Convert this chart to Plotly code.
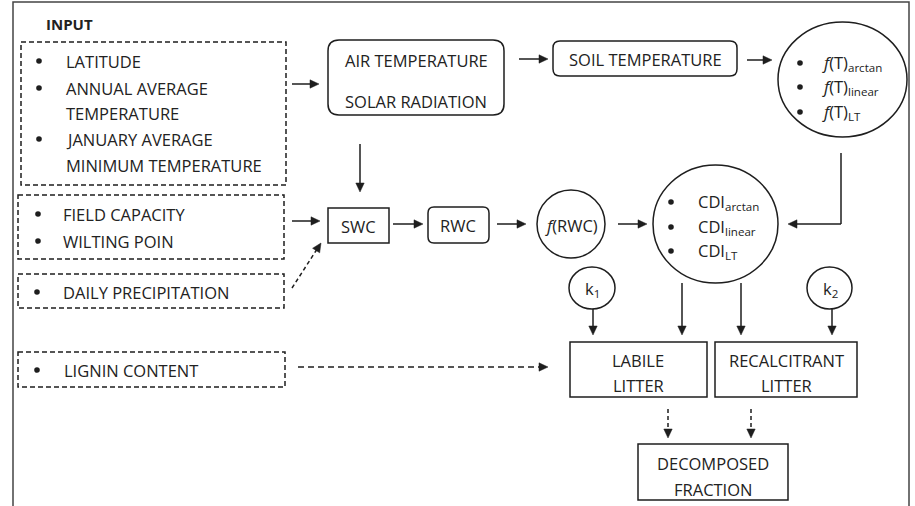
import plotly.graph_objects as go

# ---- chart text (values) ----
input_title = "INPUT"
climate_inputs = ["LATITUDE", "ANNUAL AVERAGE\nTEMPERATURE", "JANUARY AVERAGE\nMINIMUM TEMPERATURE"]
soil_inputs = ["FIELD CAPACITY", "WILTING POIN"]
rain_inputs = ["DAILY PRECIPITATION"]
litter_inputs = ["LIGNIN CONTENT"]
weather_labels = ["AIR TEMPERATURE", "SOLAR RADIATION"]
soil_temp_label = "SOIL TEMPERATURE"
temp_variants = ["arctan", "linear", "LT"]
cdi_variants = ["arctan", "linear", "LT"]
water_labels = ["SWC", "RWC"]
rwc_func_label = "<i>f</i>(RWC)"
rate_labels = ["k<sub>1</sub>", "k<sub>2</sub>"]
pool_labels = ["LABILE\nLITTER", "RECALCITRANT\nLITTER"]
output_label = "DECOMPOSED\nFRACTION"

W, H = 915, 506
INK = "#1e1e1e"
TXT = "#222222"
FONT = "Open Sans"
FS = 16.5
LW = 1.5

fig = go.Figure()
shapes = []
annos = []


def text(x, y, s, anchor="left", size=FS, bold=False):
    if bold:
        s = "<b>" + s + "</b>"
    annos.append(dict(x=x, y=y, text=s, showarrow=False, xanchor=anchor, yanchor="middle",
                      font=dict(family=FONT, size=size, color=TXT)))


def lines(x, y_rows, s):
    for y, part in zip(y_rows, s.split("\n")):
        text(x, y, part, anchor="center")


def dot(x, y, r=2.8):
    shapes.append(dict(type="circle", x0=x - r, y0=y - r, x1=x + r, y1=y + r,
                       fillcolor=INK, line=dict(width=0)))


def rect(x0, y0, x1, y1, dash="solid"):
    shapes.append(dict(type="rect", x0=x0, y0=y0, x1=x1, y1=y1,
                       line=dict(color=INK, width=LW, dash=dash)))


def rrect(x0, y0, x1, y1, r):
    p = (f"M{x0+r},{y0} L{x1-r},{y0} Q{x1},{y0} {x1},{y0+r} L{x1},{y1-r} Q{x1},{y1} {x1-r},{y1} "
         f"L{x0+r},{y1} Q{x0},{y1} {x0},{y1-r} L{x0},{y0+r} Q{x0},{y0} {x0+r},{y0} Z")
    shapes.append(dict(type="path", path=p, line=dict(color=INK, width=LW)))


def oval(x0, y0, x1, y1):
    shapes.append(dict(type="circle", x0=x0, y0=y0, x1=x1, y1=y1, line=dict(color=INK, width=LW)))


def arrow(x0, y0, x1, y1, dash="solid", head=9, half=4.2):
    dx, dy = x1 - x0, y1 - y0
    n = (dx * dx + dy * dy) ** 0.5
    ux, uy = dx / n, dy / n
    bx, by = x1 - ux * head, y1 - uy * head
    shapes.append(dict(type="line", x0=x0, y0=y0, x1=bx + ux, y1=by + uy,
                       line=dict(color=INK, width=LW, dash=dash)))
    px, py = -uy * half, ux * half
    p = f"M{x1},{y1} L{bx + px},{by + py} L{bx - px},{by - py} Z"
    shapes.append(dict(type="path", path=p, fillcolor=INK, line=dict(color=INK, width=0.5)))


def bullet_list(items, x_bullet, x_text, y_rows):
    k = 0
    for item in items:
        for j, line in enumerate(item.split("\n")):
            if j == 0:
                dot(x_bullet, y_rows[k])
            text(x_text, y_rows[k], line)
            k += 1


# outer frame
shapes.append(dict(type="rect", x0=13, y0=2, x1=909, y1=530, line=dict(color="#444444", width=1.5)))

# inputs
text(44, 24, input_title, size=15, bold=True)
rect(21, 42, 286, 185, dash="5px,3px")
bullet_list(climate_inputs, 39, 64, [61, 88, 113, 139, 165])
rect(18, 195, 284, 259, dash="5px,3px")
bullet_list(soil_inputs, 38, 61, [214, 241])
rect(18, 274, 284, 308, dash="5px,3px")
bullet_list(rain_inputs, 37, 61, [292])
rect(18, 352, 285, 387, dash="5px,3px")
bullet_list(litter_inputs, 37, 62, [370])

# weather / soil temperature
rrect(328, 40, 504, 115, 11)
lines(416, [60, 101], "\n".join(weather_labels))
rrect(553, 41, 737, 76, 7)
text(645, 59, soil_temp_label, anchor="center")

# temperature functions
oval(778, 22, 907, 137)
for y, v in zip([63, 87, 112], temp_variants):
    dot(800, y)
    text(820, y, "<i>f</i>(T)<sub>" + v + "</sub>")

# water chain
rect(328, 208, 389, 243)
text(358, 226, water_labels[0], anchor="center")
rrect(428, 207, 489, 243, 6)
text(458, 225, water_labels[1], anchor="center")
oval(537, 190, 605, 258)
text(571, 225, rwc_func_label, anchor="center")

# CDI
oval(653, 165, 778, 283)
for y, v in zip([202, 227, 251], cdi_variants):
    dot(671, y)
    text(696, y, "CDI<sub>" + v + "</sub>")

# rate constants
oval(569, 267, 615, 309)
text(592, 289, rate_labels[0], anchor="center")
oval(807, 267, 852, 309)
text(830, 289, rate_labels[1], anchor="center")

# litter pools and output
rect(570, 342, 707, 397)
lines(638, [360, 385], pool_labels[0])
rect(715, 342, 857, 397)
lines(786, [360, 385], pool_labels[1])
rect(638, 444, 788, 500)
lines(713, [463, 489], output_label)

# arrows
arrow(292, 84, 319, 84)
arrow(519, 59, 548, 59)
arrow(747, 60, 772, 60)
arrow(360, 144, 360, 192)
arrow(292, 221, 320, 221)
arrow(292, 288, 321, 243, dash="4px,3px")
arrow(393, 224, 423, 224)
arrow(497, 224, 526, 224)
arrow(618, 224, 647, 224)
shapes.append(dict(type="line", x0=841, y0=153, x1=841, y1=224, line=dict(color=INK, width=LW)))
arrow(841, 224, 788, 224)
arrow(593, 309, 593, 335)
arrow(682, 283, 682, 335)
arrow(741, 283, 741, 335)
arrow(832, 309, 832, 335)
arrow(298, 367, 548, 367, dash="6px,4px")
arrow(668, 409, 668, 438, dash="4px,3px")
arrow(751, 409, 751, 438, dash="4px,3px")

fig.update_layout(
    width=W, height=H,
    margin=dict(l=0, r=0, t=0, b=0),
    paper_bgcolor="white", plot_bgcolor="white",
    xaxis=dict(range=[0, W], visible=False, fixedrange=True),
    yaxis=dict(range=[H, 0], visible=False, fixedrange=True),
    shapes=shapes, annotations=annos,
    showlegend=False,
)

fig.write_html("out.html", config={"displayModeBar": False},
               post_script="document.body.style.margin='0px';")
